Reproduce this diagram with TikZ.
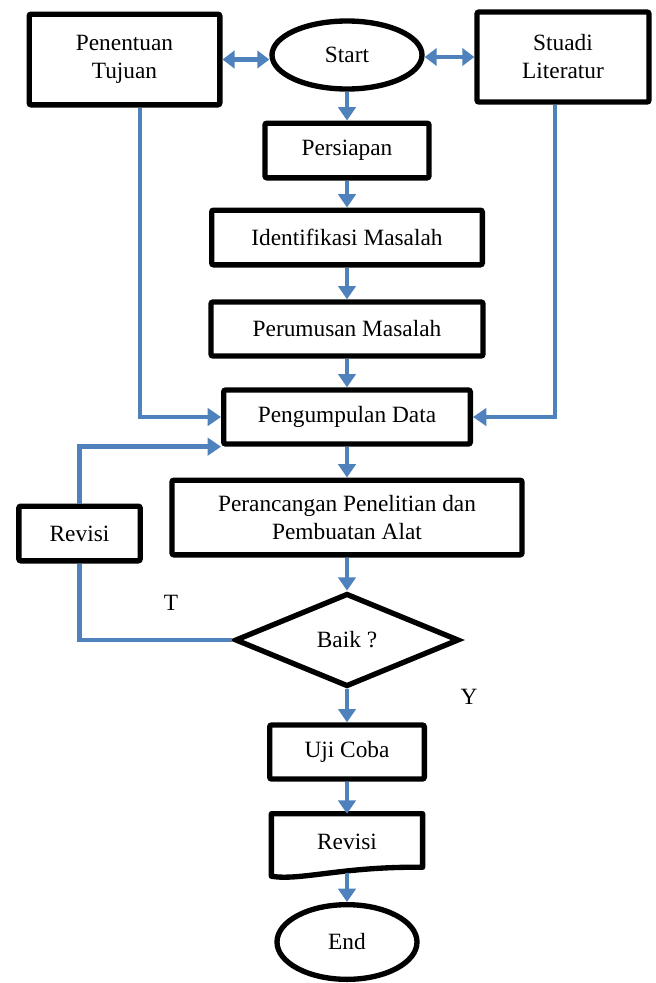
\documentclass[tikz,border=0pt]{standalone}
\usepackage{fontspec}
\setmainfont{Liberation Serif}
\usetikzlibrary{positioning,shapes.geometric,arrows.meta}
\definecolor{flowblue}{HTML}{4F81BD}

\begin{document}
\begin{tikzpicture}[x=0.75pt,y=-0.75pt]
\tikzstyle{box}=[rectangle,draw=black,line width=4pt,rounded corners=1.5pt,inner sep=2pt,align=center,font=\fontsize{17.5}{21}\selectfont]
\tikzstyle{term}=[ellipse,draw=black,line width=4pt,inner sep=0pt,font=\fontsize{17.5}{21}\selectfont]
\tikzstyle{decision}=[diamond,draw=black,line width=4pt,inner sep=0pt,font=\fontsize{17.5}{21}\selectfont]
\tikzstyle{doc}=[rectangle,inner sep=2pt,font=\fontsize{17.5}{21}\selectfont]
\tikzstyle{flow}=[draw=flowblue,line width=3.6pt,-{Triangle[width=13pt,length=10pt]}]
\tikzstyle{dflow}=[draw=flowblue,line width=3.6pt,{Triangle[width=13pt,length=9pt]}-{Triangle[width=13pt,length=9pt]}]
\tikzstyle{link}=[draw=flowblue,line width=3.6pt]
\tikzstyle{tag}=[font=\fontsize{17.5}{21}\selectfont]
    \useasboundingbox (0,0) rectangle (656,983);
    \node[box,minimum width=143pt,minimum height=68pt] (tujuan) at (124.5,59.5) {Penentuan\\Tujuan};
    \node[term,minimum width=112.5pt,minimum height=51pt] (start) at (347,55) {Start};
    \node[box,minimum width=129pt,minimum height=67.5pt] (literatur) at (563,57) {Stuadi\\Literatur};
    \node[box,minimum width=123pt,minimum height=41pt] (persiapan) at (347,150.5) {Persiapan};
    \node[box,minimum width=203pt,minimum height=41pt] (identifikasi) at (347,237.5) {Identifikasi Masalah};
    \node[box,minimum width=204pt,minimum height=40.5pt] (perumusan) at (347,329) {Perumusan Masalah};
    \node[box,minimum width=185pt,minimum height=40.5pt] (pengumpulan) at (347,417) {Pengumpulan Data};
    \node[box,minimum width=262.5pt,minimum height=56pt] (perancangan) at (347,517.5) {Perancangan Penelitian dan\\Pembuatan Alat};
    \node[box,minimum width=91pt,minimum height=41pt] (revisia) at (79.5,533.5) {Revisi};
    \node[decision,minimum width=168pt,minimum height=70pt] (baik) at (347,640) {Baik ?};
    \node[box,minimum width=116pt,minimum height=40.5pt] (ujicoba) at (347,752) {Uji Coba};
    \node[doc,minimum width=113pt,minimum height=42pt] (revisib) at (347,842) {Revisi};
    \node[term,minimum width=105pt,minimum height=56pt] (end) at (347,942) {End};
    \node[tag] (tlabel) at (171,603) {T};
    \node[tag] (ylabel) at (469,697) {Y};
    % document shape
    \draw[line width=4pt,line join=round] ([yshift=-4.5pt]revisib.south west) -- (revisib.north west) -- (revisib.north east) -- ([yshift=2.25pt]revisib.south east)
      .. controls ([xshift=-60pt,yshift=3pt]revisib.south east) and ([xshift=22pt,yshift=-8pt]revisib.south west) .. ([yshift=-4.5pt]revisib.south west) -- cycle;
    \draw[dflow] (tujuan.east) -- (tujuan.east -| start.west);
    \draw[dflow] (start.east |- literatur.west) -- (literatur.west);
    \draw[flow] (start.south) -- (persiapan.north);
    \draw[flow] (persiapan.south) -- (identifikasi.north);
    \draw[flow] (identifikasi.south) -- (perumusan.north);
    \draw[flow] (perumusan.south) -- (pengumpulan.north);
    \draw[flow] (pengumpulan.south) -- (perancangan.north);
    \draw[flow] (perancangan.south) -- (baik.north);
    \draw[flow] (baik.south) -- (ujicoba.north);
    \draw[flow] (ujicoba.south) -- (revisib.north);
    \draw[flow] ([yshift=-2pt]revisib.south) -- (end.north);
    \draw[flow] ([xshift=11.6pt]tujuan.south) |- (pengumpulan.west);
    \draw[flow] ([xshift=-6pt]literatur.south) |- (pengumpulan.east);
    \draw[flow] (revisia.north) |- (pengumpulan.south west);
    \draw[link] (baik.west) -| (revisia.south);
  \end{tikzpicture}
\end{document}
